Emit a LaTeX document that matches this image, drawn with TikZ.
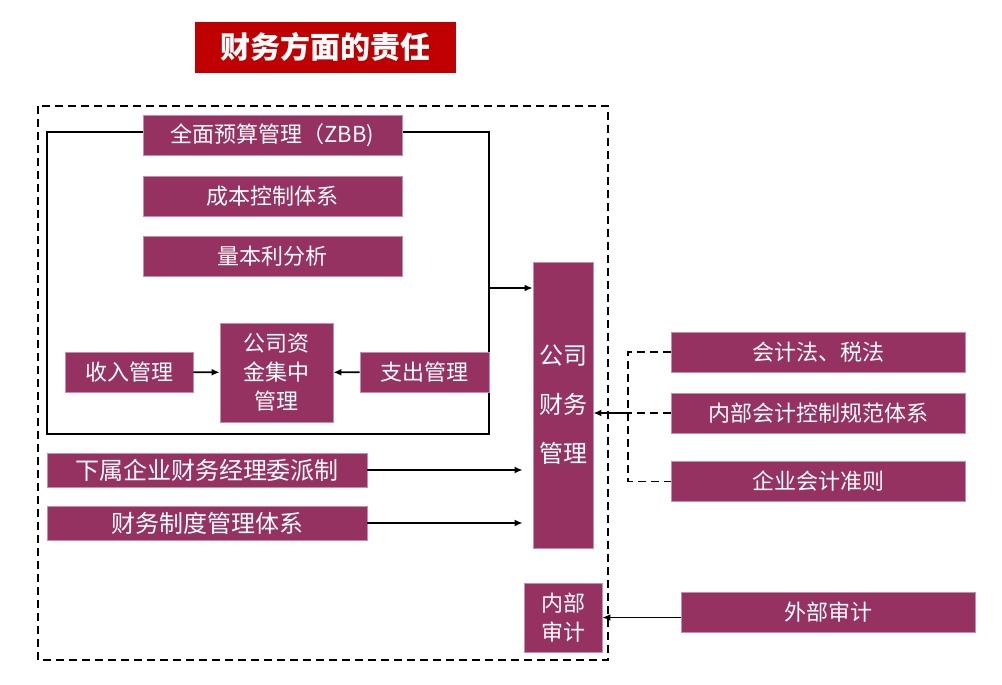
\documentclass[tikz,border=0pt]{standalone}
\usepackage{fontspec}
\newfontfamily\cjk{Noto Sans CJK SC}
\usepackage{xcolor}
\usepackage{tikz}
\usetikzlibrary{arrows.meta, calc}
\definecolor{plum}{HTML}{963262}
\definecolor{banner}{HTML}{C00000}
\tikzset{
    >={Latex[length=8pt, width=7pt]},
    item/.style={fill=plum, draw=plum!55!white, line width=0.8pt, text=white,
        inner sep=0pt, align=center, font=\cjk\fontsize{22}{29}\selectfont},
    frame/.style={line width=2.4pt},
    outline/.style={line width=1.8pt, dash pattern=on 8pt off 5pt},
    link/.style={->, line width=1.8pt},
    cite/.style={line width=1.8pt, dash pattern=on 8pt off 5pt},
}

\begin{document}
\begin{tikzpicture}[x=1pt, y=-1pt]
    \useasboundingbox (0,0) rectangle (1002,685);
    \node[item, fill=banner, draw=banner, minimum width=260pt, minimum height=50pt,
        font=\cjk\bfseries\fontsize{30}{34}\selectfont] (title) at (325,47) {财务方面的责任};
    \draw[outline] (38,106) rectangle (608,660);
    \draw[frame] (47,132) rectangle (489,434);
    \foreach \name/\y/\txt in {budget/135/全面预算管理（ZBB), cost/196.5/成本控制体系, cvp/256/量本利分析}
        \node[item, minimum width=259pt, minimum height=40pt] (\name) at (272.5,\y) {\txt};
    \node[item, minimum width=128pt, minimum height=40pt] (income) at (129,372) {收入管理};
    \node[item, minimum width=113pt, minimum height=99pt] (pool) at (276.5,372.5) {公司资\\金集中\\管理};
    \node[item, minimum width=129pt, minimum height=40pt] (spend) at (424.5,372) {支出管理};
    \node[item, minimum width=60pt, minimum height=286pt,
        font=\cjk\fontsize{24}{49}\selectfont] (fin) at (563,405) {公司\\财务\\管理};
    \foreach \name/\y/\txt in {dispatch/470/下属企业财务经理委派制, rules/523/财务制度管理体系}
        \node[item, minimum width=320pt, minimum height=34pt, font=\cjk\fontsize{24}{29}\selectfont]
            (\name) at (207,\y) {\txt};
    \node[item, minimum width=78pt, minimum height=69pt] (audin) at (563,617.5) {内部\\审计};
    \foreach \name/\y/\txt in {law/352/会计法、税法, ctrl/413/内部会计控制规范体系, std/481.5/企业会计准则}
        \node[item, minimum width=294pt, minimum height=40pt] (\name) at (818,\y) {\txt};
    \node[item, minimum width=294pt, minimum height=40pt] (audex) at (828,612) {外部审计};
    % connectors
    \coordinate (tap) at (489,288);
    \coordinate (brk) at (628,413);
    \draw[link] (income) -- (pool);
    \draw[link] (spend) -- (pool);
    \draw[link] (tap) -- (tap -| fin.west);
    \foreach \n in {dispatch, rules}
        \draw[link, shorten >=10pt] (\n.east) -- (\n.east -| fin.west);
    \draw[cite] (law.west) -| (brk) |- (std.west);
    \draw[cite] (ctrl.west) -- (brk);
    \draw[link] (brk) -- (fin.east |- brk);
    \draw[link] (audex.west |- audin) -- (audin);
\end{tikzpicture}
\end{document}
